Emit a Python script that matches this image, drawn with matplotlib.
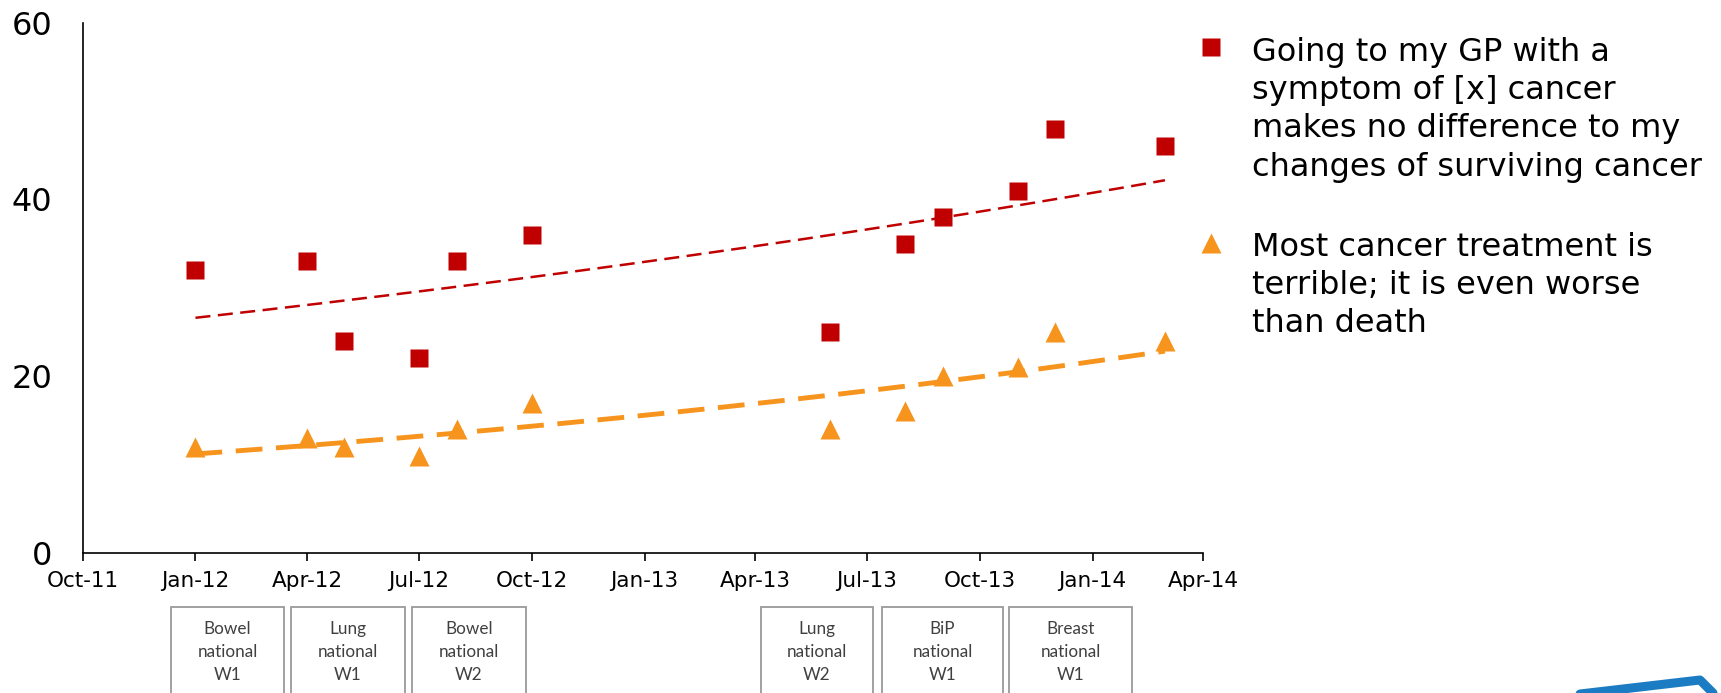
import numpy as np
import pandas as pd
import matplotlib
matplotlib.use("Agg")
import matplotlib.pyplot as plt
import matplotlib.dates as mdates
from matplotlib.lines import Line2D
from matplotlib.patches import Rectangle

# survey waves (dates) and % agreeing with each statement
dates = pd.to_datetime([
    "2012-01-01", "2012-04-01", "2012-05-01", "2012-07-01", "2012-08-01", "2012-10-01",
    "2013-06-01", "2013-08-01", "2013-09-01", "2013-11-01", "2013-12-01", "2014-03-01",
])
gp_no_difference = [32, 33, 24, 22, 33, 36, 25, 35, 38, 41, 48, 46]
treatment_worse = [12, 13, 12, 11, 14, 17, 14, 16, 20, 21, 25, 24]

label_gp = ("Going to my GP with a\nsymptom of [x] cancer\n"
            "makes no difference to my\nchanges of surviving cancer")
label_tr = "Most cancer treatment is\nterrible; it is even worse\nthan death"

campaigns = ["Bowel\nnational\nW1", "Lung\nnational\nW1", "Bowel\nnational\nW2",
             "Lung\nnational\nW2", "BiP\nnational\nW1", "Breast\nnational\nW1"]

RED = "#C00000"
ORANGE = "#F7941D"

W, H = 1721, 693
fig = plt.figure(figsize=(W / 100, H / 100), dpi=100)
ax = fig.add_axes([82.6 / W, 1 - 552.7 / H, (1203 - 82.6) / W, (552.7 - 22.7) / H])

x = mdates.date2num(dates)


def exp_trend(xv, yv):
    # Excel-style exponential trendline: fit ln(y) linearly
    b, a = np.polyfit(xv - xv[0], np.log(yv), 1)
    xs = np.linspace(xv[0], xv[-1], 200)
    return xs, np.exp(a + b * (xs - xv[0]))


xs, ys = exp_trend(x, np.array(gp_no_difference, float))
ax.plot(xs, ys, color=RED, lw=1.8, dashes=(6, 3), zorder=2)
xs, ys = exp_trend(x, np.array(treatment_worse, float))
ax.plot(xs, ys, color=ORANGE, lw=3.5, dashes=(5.5, 2.8), zorder=2)

ax.plot(x, gp_no_difference, ls="none", marker="s", ms=13.5, color=RED, mec="none", zorder=3)
ax.plot(x, treatment_worse, ls="none", marker="^", ms=14, color=ORANGE, mec="none", zorder=3)

ax.set_xlim(mdates.date2num(pd.Timestamp("2011-10-01")), mdates.date2num(pd.Timestamp("2014-04-01")))
ax.set_ylim(0, 60)
ax.xaxis.set_major_locator(mdates.MonthLocator(bymonth=[1, 4, 7, 10]))
ax.xaxis.set_major_formatter(mdates.DateFormatter("%b-%y"))
ax.set_yticks([0, 20, 40, 60])
ax.tick_params(axis="y", length=0, labelsize=23, pad=22)
ax.tick_params(axis="x", length=6, width=1.2, labelsize=15.5, pad=7, direction="out")
for s in ["top", "right"]:
    ax.spines[s].set_visible(False)
for s in ["left", "bottom"]:
    ax.spines[s].set_linewidth(1.2)

# legend drawn by hand so the markers sit on the first text line
fig.add_artist(Line2D([1211 / W], [1 - 47 / H], transform=fig.transFigure,
                      marker="s", ms=13.5, color=RED, mec="none"))
fig.add_artist(Line2D([1211 / W], [1 - 243 / H], transform=fig.transFigure,
                      marker="^", ms=14, color=ORANGE, mec="none"))
fig.text(1252 / W, 1 - 37 / H, label_gp, fontsize=23, va="top", ha="left", linespacing=1.3)
fig.text(1252 / W, 1 - 232 / H, label_tr, fontsize=23, va="top", ha="left", linespacing=1.3)

# campaign boxes under the axis
box_left = [171, 291, 412, 761, 882, 1009]
box_right = [284, 405, 526, 873, 1003, 1132]
for l, r, txt in zip(box_left, box_right, campaigns):
    fig.add_artist(Rectangle((l / W, -0.05), (r - l) / W, 0.05 + (693 - 607) / H,
                             transform=fig.transFigure, fill=False, ec="#9A9A9A", lw=1.3))
    fig.text((l + r) / 2 / W, 1 - 652 / H, txt, ha="center", va="center", fontsize=12.3,
             family="Lato", color="#404040", linespacing=1.55)

# fragment of the blue logo in the bottom corner
fig.add_artist(Line2D([1580 / W, 1700 / W, 1713 / W], [1 - 694 / H, 1 - 680 / H, 1 - 693 / H],
                      transform=fig.transFigure, color="#1B7CC4", lw=6.5, solid_capstyle="round",
                      solid_joinstyle="round"))

fig.savefig("out.png", dpi=100)
